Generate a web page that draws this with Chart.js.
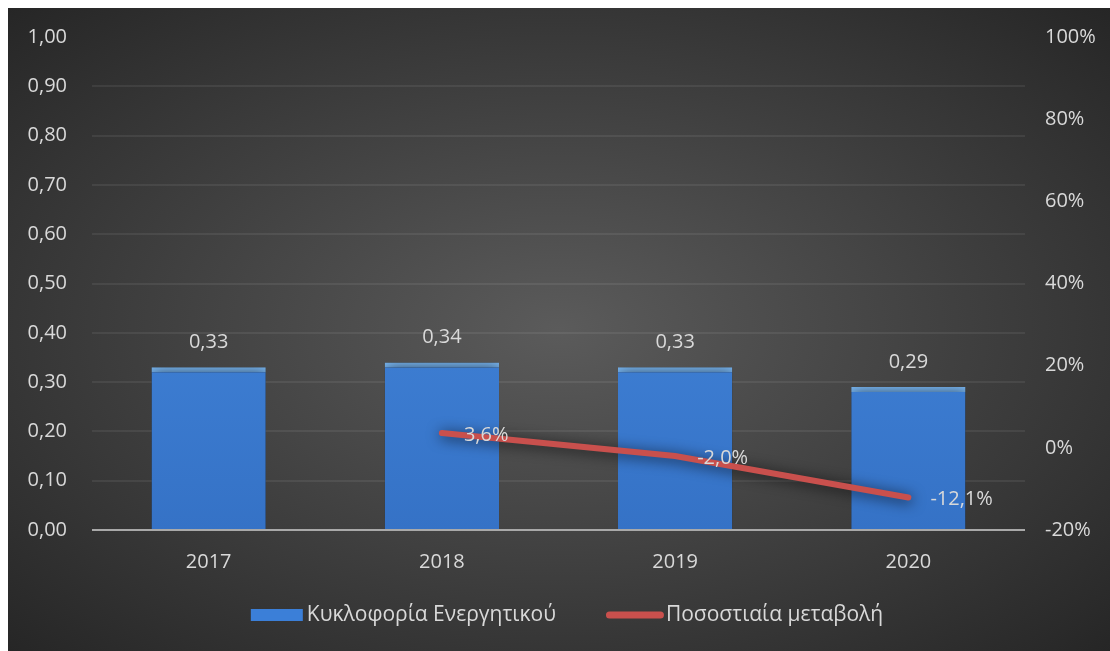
<!DOCTYPE html>
<html>
<head>
<meta charset="utf-8">
<script src="https://cdn.jsdelivr.net/npm/chart.js@4.4.1/dist/chart.umd.min.js"></script>
<style>
  html, body { margin: 0; padding: 0; background: #fff; }
  #wrap {
    position: absolute; left: 8px; top: 8px; width: 1102px; height: 643px;
    background: radial-gradient(ellipse at 50% 50%, #5b5b5b 0%, #262626 100%);
  }
</style>
</head>
<body>
<div id="wrap"><canvas id="chart"></canvas></div>
<script>
var years = ['2017', '2018', '2019', '2020'];
var assetTurnover = [0.33, 0.34, 0.33, 0.29];
var pctChange = [null, 3.6, -2.0, -12.1];
var seriesNames = ['Κυκλοφορία Ενεργητικού', 'Ποσοστιαία μεταβολή'];
var leftAxis = { min: 0, max: 1, step: 0.1 };
var rightAxis = { min: -20, max: 100, step: 20 };

var textColor = '#d9d9d9';
var barBlue = '#3b7fd8';
var lineRed = '#c9504d';
var fontFamily = '"Open Sans", sans-serif';

function fmtNum(v) {
    return v.toFixed(2).replace('.', ',');
}

function fmtPct(v) {
    return v.toFixed(1).replace('.', ',') + '%';
}

// y axes should not push the plot area in for their label overhang
function flatPadding(scale) {
    scale.paddingTop = 0;
    scale.paddingBottom = 0;
}

// soft drop shadow under bars and line
var shadowPlugin = {
    id: 'shadow',
    beforeDatasetDraw: function (chart) {
        var ctx = chart.ctx;
        ctx.save();
        ctx.shadowColor = 'rgba(0,0,0,0.75)';
        ctx.shadowBlur = 14;
        ctx.shadowOffsetX = 1;
        ctx.shadowOffsetY = 2;
    },
    afterDatasetDraw: function (chart) {
        chart.ctx.restore();
    }
};

// value labels over bars and beside line points
var valueLabels = {
    id: 'valueLabels',
    afterDatasetsDraw: function (chart) {
        var ctx = chart.ctx;
        ctx.save();
        ctx.font = '20px ' + fontFamily;
        ctx.fillStyle = textColor;
        ctx.textBaseline = 'middle';
        chart.getDatasetMeta(0).data.forEach(function (bar, i) {
            ctx.textAlign = 'center';
            ctx.fillText(fmtNum(assetTurnover[i]), bar.x, bar.y - 25);
        });
        chart.getDatasetMeta(1).data.forEach(function (pt, i) {
            if (pctChange[i] === null) return;
            ctx.textAlign = 'left';
            ctx.fillText(fmtPct(pctChange[i]), pt.x + 22, pt.y + 2);
        });
        ctx.restore();
    }
};

// legend row under the x axis: wide blue swatch, thick red stroke
var bottomLegend = {
    id: 'bottomLegend',
    afterDraw: function (chart) {
        var ctx = chart.ctx;
        ctx.save();
        ctx.font = '21px ' + fontFamily;
        ctx.textBaseline = 'middle';
        ctx.textAlign = 'left';
        var w0 = ctx.measureText(seriesNames[0]).width;
        var w1 = ctx.measureText(seriesNames[1]).width;
        var total = 52 + 4 + w0 + 50 + 58 + 2 + w1;
        var x = chart.width / 2 + 8 - total / 2;
        var y = chart.chartArea.bottom + 85;

        ctx.fillStyle = barBlue;
        ctx.fillRect(x, y - 6, 52, 12);
        ctx.fillStyle = textColor;
        ctx.fillText(seriesNames[0], x + 56, y);

        x += 56 + w0 + 50;
        ctx.strokeStyle = lineRed;
        ctx.lineWidth = 7;
        ctx.lineCap = 'round';
        ctx.beginPath();
        ctx.moveTo(x + 3.5, y);
        ctx.lineTo(x + 54.5, y);
        ctx.stroke();
        ctx.fillText(seriesNames[1], x + 60, y);
        ctx.restore();
    }
};

var barFill = function (c) {
    var area = c.chart.chartArea;
    if (!area) return barBlue;
    var g = c.chart.ctx.createLinearGradient(0, area.top, 0, area.bottom);
    g.addColorStop(0, '#4a90e6');
    g.addColorStop(1, '#3572c6');
    return g;
};

var chart = new Chart(document.getElementById('chart'), {
    type: 'bar',
    data: {
        labels: years,
        datasets: [
            {
                label: seriesNames[0],
                data: assetTurnover,
                yAxisID: 'y',
                backgroundColor: barFill,
                borderColor: '#7ab8f4',
                borderWidth: { top: 5, left: 0, right: 0, bottom: 0 },
                borderSkipped: false,
                categoryPercentage: 1,
                barPercentage: 0.49,
                order: 2
            },
            {
                type: 'line',
                label: seriesNames[1],
                data: pctChange,
                yAxisID: 'y1',
                borderColor: lineRed,
                borderWidth: 6,
                borderCapStyle: 'round',
                pointRadius: 0,
                pointHoverRadius: 0,
                tension: 0,
                order: 1
            }
        ]
    },
    options: {
        responsive: true,
        maintainAspectRatio: false,
        animation: false,
        layout: { padding: { top: 29, left: 0, right: 0, bottom: 57 } },
        plugins: {
            tooltip: { enabled: false },
            legend: { display: false }
        },
        scales: {
            x: {
                grid: { display: false, drawTicks: false },
                border: { display: false },
                ticks: { color: textColor, font: { family: fontFamily, size: 20 }, padding: 20 }
            },
            y: {
                position: 'left',
                min: leftAxis.min,
                max: leftAxis.max,
                border: { display: false },
                grid: {
                    drawTicks: false,
                    color: function (c) {
                        if (c.tick.value === 0) return '#a9a9a9';
                        if (c.tick.value > 0.99) return 'transparent';
                        return 'rgba(255,255,255,0.07)';
                    },
                    lineWidth: 2
                },
                ticks: {
                    stepSize: leftAxis.step,
                    color: textColor,
                    font: { family: fontFamily, size: 20 },
                    padding: 25,
                    callback: function (v) { return fmtNum(v); }
                },
                afterFit: function (scale) { scale.width = 84; flatPadding(scale); }
            },
            y1: {
                position: 'right',
                min: rightAxis.min,
                max: rightAxis.max,
                border: { display: false },
                grid: { display: false, drawTicks: false },
                ticks: {
                    stepSize: rightAxis.step,
                    color: textColor,
                    font: { family: fontFamily, size: 20 },
                    padding: 20,
                    callback: function (v) { return v + '%'; }
                },
                afterFit: function (scale) { scale.width = 85; flatPadding(scale); }
            }
        }
    },
    plugins: [shadowPlugin, valueLabels, bottomLegend]
});
</script>
</body>
</html>
